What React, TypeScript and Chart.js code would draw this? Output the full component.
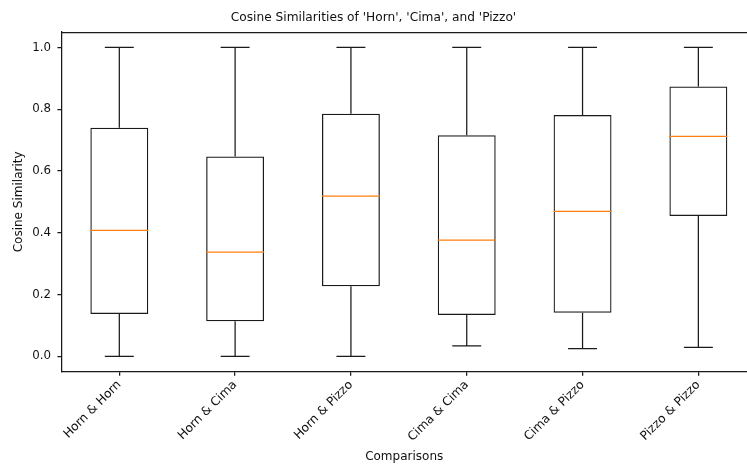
import React, { useEffect, useRef } from 'react';
import { Chart, registerables } from 'chart.js';

Chart.register(...registerables);

const TITLE = "Cosine Similarities of 'Horn', 'Cima', and 'Pizzo'";
const X_LABEL = 'Comparisons';
const Y_LABEL = 'Cosine Similarity';
const CATEGORIES = ['Horn & Horn', 'Horn & Cima', 'Horn & Pizzo', 'Cima & Cima', 'Cima & Pizzo', 'Pizzo & Pizzo'];
const WHISKER_LOW = [0.0, 0.0, 0.0, 0.034, 0.025, 0.029];
const Q1 = [0.137, 0.113, 0.227, 0.134, 0.141, 0.454];
const MEDIAN = [0.408, 0.337, 0.519, 0.376, 0.469, 0.712];
const Q3 = [0.74, 0.647, 0.785, 0.716, 0.781, 0.874];
const WHISKER_HIGH = [1.0, 1.0, 1.0, 1.0, 1.0, 1.0];
const Y_TICKS = [0, 0.2, 0.4, 0.6, 0.8, 1.0];

const FONT = "'DejaVu Sans', sans-serif";
const LINE = '#1a1a1a';
const LW = 1.25;

const boxExtras = {
  id: 'boxExtras',
  afterDatasetsDraw(chart: any) {
    const { ctx, chartArea } = chart;
    const x = chart.scales.x;
    const y = chart.scales.y;
    const unit = Math.abs(x.getPixelForValue(2) - x.getPixelForValue(1));
    ctx.save();
    ctx.lineWidth = LW;
    CATEGORIES.forEach((_, i) => {
      const cx = x.getPixelForValue(i + 1);
      const capHalf = unit * 0.125;
      const boxHalf = unit * 0.25;
      const yHi = y.getPixelForValue(WHISKER_HIGH[i]);
      const yLo = y.getPixelForValue(WHISKER_LOW[i]);
      const yQ1 = y.getPixelForValue(Q1[i]);
      const yQ3 = y.getPixelForValue(Q3[i]);
      const yMed = y.getPixelForValue(MEDIAN[i]);
      ctx.strokeStyle = LINE;
      ctx.beginPath();
      ctx.moveTo(cx, yQ3);
      ctx.lineTo(cx, yHi);
      ctx.moveTo(cx, yQ1);
      ctx.lineTo(cx, yLo);
      ctx.moveTo(cx - capHalf, yHi);
      ctx.lineTo(cx + capHalf, yHi);
      ctx.moveTo(cx - capHalf, yLo);
      ctx.lineTo(cx + capHalf, yLo);
      ctx.stroke();
      ctx.strokeStyle = '#ff7f0e';
      ctx.beginPath();
      ctx.moveTo(cx - boxHalf, yMed);
      ctx.lineTo(cx + boxHalf, yMed);
      ctx.stroke();
    });
    ctx.strokeStyle = LINE;
    ctx.beginPath();
    ctx.moveTo(chartArea.left, chartArea.top + 0.5);
    ctx.lineTo(chartArea.right, chartArea.top + 0.5);
    ctx.stroke();
    ctx.restore();
  },
};

export default function App() {
  const ref = useRef<HTMLCanvasElement | null>(null);

  useEffect(() => {
    document.body.style.margin = '0';
    document.documentElement.style.overflow = 'hidden';
    const canvas = ref.current;
    if (!canvas) return;
    const chart = new Chart(canvas, {
      type: 'bar',
      data: {
        datasets: [
          {
            data: CATEGORIES.map((_, i) => ({ x: i + 1, y: [Q1[i], Q3[i]] })) as any,
            backgroundColor: 'rgba(255,255,255,0)',
            borderColor: LINE,
            borderWidth: LW,
            borderSkipped: false,
            categoryPercentage: 1,
            barPercentage: 0.5,
          } as any,
        ],
      },
      options: {
        animation: false,
        responsive: false,
        maintainAspectRatio: false,
        events: [],
        layout: { padding: 0 },
        plugins: {
          legend: { display: false },
          tooltip: { enabled: false },
          title: {
            display: true,
            text: TITLE,
            color: '#111',
            font: { family: FONT, size: 12.2, weight: 'normal', lineHeight: 1.2 },
            padding: { top: 10.2, bottom: 7.2 },
          },
        },
        scales: {
          x: {
            type: 'linear',
            min: 0.5,
            max: 6.42,
            offset: false,
            afterBuildTicks: (s: any) => {
              s.ticks = CATEGORIES.map((_, i) => ({ value: i + 1 }));
            },
            afterFit: (s: any) => {
              s.height = 93.3;
            },
            grid: { display: true, offset: false, drawOnChartArea: false, drawTicks: true, tickLength: 4, color: LINE, lineWidth: LW },
            border: { display: true, color: LINE, width: LW },
            ticks: {
              autoSkip: false,
              maxRotation: 45,
              minRotation: 45,
              padding: 2,
              color: '#111',
              font: { family: FONT, size: 12.2 },
              callback: (v: any) => CATEGORIES[Math.round(Number(v)) - 1] ?? '',
            },
            title: {
              display: true,
              text: X_LABEL,
              color: '#111',
              font: { family: FONT, size: 12, lineHeight: 1.2 },
              padding: { top: 0, bottom: 1.2 },
            },
          },
          y: {
            type: 'linear',
            min: -0.05,
            max: 1.05,
            afterBuildTicks: (s: any) => {
              s.ticks = Y_TICKS.map((v) => ({ value: v }));
            },
            afterFit: (s: any) => {
              s.width = 61.4;
            },
            grid: { display: true, drawOnChartArea: false, drawTicks: true, tickLength: 4, color: LINE, lineWidth: LW },
            border: { display: true, color: LINE, width: LW },
            ticks: {
              padding: 6.5,
              color: '#111',
              font: { family: FONT, size: 11.8 },
              callback: (v: any) => Number(v).toFixed(1),
            },
            title: {
              display: true,
              text: Y_LABEL,
              color: '#111',
              font: { family: FONT, size: 12, lineHeight: 1.2 },
              padding: { top: 11.3, bottom: 0 },
            },
          },
        },
      },
      plugins: [boxExtras],
    } as any);
    return () => chart.destroy();
  }, []);

  return (
    <div style={{ position: 'fixed', left: 0, top: 0, width: 747, height: 465, background: '#fff' }}>
      <canvas ref={ref} width={747} height={465} style={{ width: 747, height: 465 }} />
    </div>
  );
}
